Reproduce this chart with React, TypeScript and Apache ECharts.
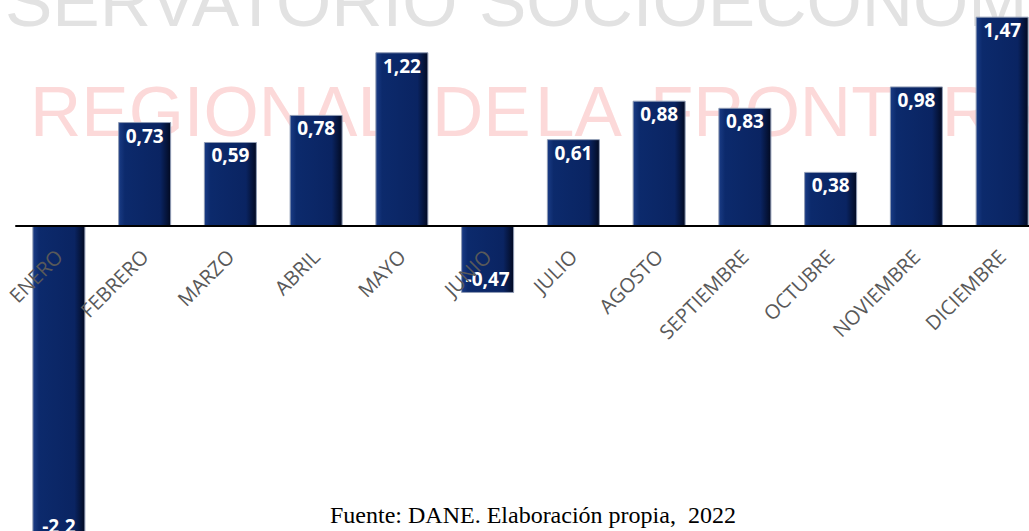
import React, { useEffect, useRef } from "react";
import * as echarts from "echarts";

const months = [
  "ENERO", "FEBRERO", "MARZO", "ABRIL", "MAYO", "JUNIO",
  "JULIO", "AGOSTO", "SEPTIEMBRE", "OCTUBRE", "NOVIEMBRE", "DICIEMBRE",
];
const values = [-2.2, 0.73, 0.59, 0.78, 1.22, -0.47, 0.61, 0.88, 0.83, 0.38, 0.98, 1.47];
const watermarkTopWords = ["SERVATORIO", "SOCIOECONOM"];
const watermarkMidWords = ["REGIONAL", "DE", "LA", "FRONTERA"];
const sourceText = "Fuente: DANE. Elaboración propia,  2022";

const Y_MIN = -2.2;
const Y_MAX = 1.5;
const GRID_TOP = 12.4;
const GRID_BOTTOM = 5.7;
const CH = 545;

export default function App() {
  const ref = useRef<HTMLDivElement>(null);
  useEffect(() => {
    document.body.style.margin = "0";
    const chart = echarts.init(ref.current!, null, { renderer: "svg" });
    const barColor = new echarts.graphic.LinearGradient(0, 0, 1, 0, [
      { offset: 0, color: "#1a3c85" },
      { offset: 0.12, color: "#0c2a6c" },
      { offset: 0.8, color: "#0a2462" },
      { offset: 1, color: "#020a22" },
    ]);
    const gridH = CH - GRID_TOP - GRID_BOTTOM;
    const zeroY = GRID_TOP + (Y_MAX / (Y_MAX - Y_MIN)) * gridH;
    const axisOffset = -(CH - GRID_BOTTOM - zeroY);
    const topX = [5, 479];
    const midX = [30, 432, 535, 650];
    chart.setOption({
      animation: false,
      backgroundColor: "#ffffff",
      grid: {
        left: 16,
        right: 0,
        top: GRID_TOP,
        bottom: GRID_BOTTOM,
        containLabel: false,
        outerBoundsMode: "none",
      },
      xAxis: {
        type: "category",
        data: months,
        position: "bottom",
        offset: axisOffset,
        axisLine: { show: true, onZero: false, lineStyle: { color: "#000000", width: 2 } },
        axisTick: { show: false },
        axisLabel: {
          interval: 0,
          rotate: 45,
          margin: 27,
          color: "#595959",
          fontSize: 20,
          fontFamily: "Open Sans",
          hideOverlap: false,
        },
        z: 5,
      },
      yAxis: {
        type: "value",
        min: Y_MIN,
        max: Y_MAX,
        show: false,
        splitLine: { show: false },
      },
      graphic: [
        ...watermarkTopWords.map((w, i) => ({
          type: "text",
          x: topX[i],
          y: 1,
          z: 0,
          style: {
            text: w,
            font: "normal 71px 'Liberation Sans'",
            fill: "#e2e2e2",
            verticalAlign: "middle",
            align: "left",
          },
        })),
        ...watermarkMidWords.map((w, i) => ({
          type: "text",
          x: midX[i],
          y: 111,
          z: 0,
          style: {
            text: w,
            font: "normal 71px 'Liberation Sans'",
            fill: "#fcd9d9",
            verticalAlign: "middle",
            align: "left",
          },
        })),
        {
          type: "text",
          x: 330,
          y: 515,
          z: 10,
          style: {
            text: sourceText,
            font: "normal 24px 'Liberation Serif'",
            fill: "#000000",
            verticalAlign: "middle",
            align: "left",
          },
        },
      ],
      series: [
        {
          type: "bar",
          barWidth: 53,
          z: 2,
          itemStyle: { color: barColor, borderColor: "#8f9bb4", borderWidth: 1 },
          label: {
            show: true,
            color: "#ffffff",
            fontWeight: "bold",
            fontSize: 19,
            fontFamily: "Open Sans",
            distance: 4,
            formatter: (p: any) => String(p.value).replace(".", ","),
          },
          data: values.map((v) => ({
            value: v,
            label: { position: v >= 0 ? "insideTop" : "insideBottom" },
          })),
        },
      ],
    });
    return () => chart.dispose();
  }, []);
  return (
    <div style={{ position: "absolute", left: 0, top: 0, width: 1029, height: 531, overflow: "hidden" }}>
      <div ref={ref} style={{ width: 1045, height: CH }} />
    </div>
  );
}
